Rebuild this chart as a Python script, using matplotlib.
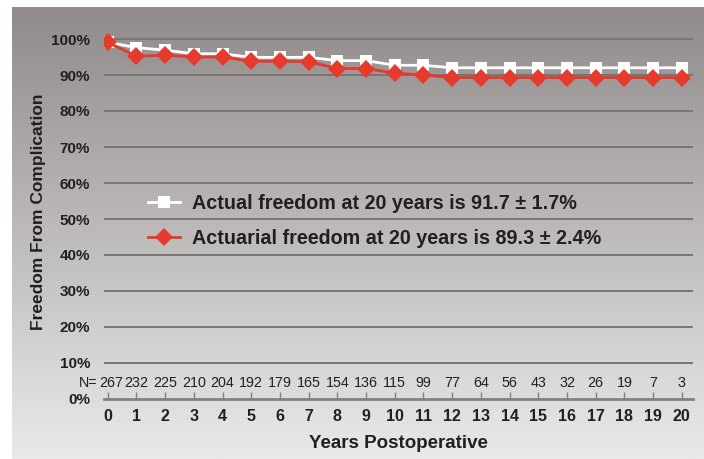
import matplotlib
matplotlib.use("Agg")
import matplotlib.pyplot as plt
import numpy as np

plt.rcParams['font.family'] = ['Liberation Sans', 'DejaVu Sans']

years = list(range(21))
actual = [99.1, 97.6, 96.9, 95.9, 95.9, 94.9, 94.9, 94.9, 94.0, 94.0, 92.7,
          92.7, 92.0, 92.0, 92.0, 92.0, 92.0, 92.0, 92.0, 92.0, 92.0]
actuarial = [99.1, 95.2, 95.5, 95.0, 95.0, 93.8, 93.8, 93.7, 91.8, 91.8, 90.5,
             90.0, 89.3, 89.3, 89.3, 89.3, 89.3, 89.3, 89.3, 89.3, 89.3]
n_at_risk = [267, 232, 225, 210, 204, 192, 179, 165, 154, 136, 115, 99, 77,
             64, 56, 43, 32, 26, 19, 7, 3]
label_actual = "Actual freedom at 20 years is 91.7 \u00b1 1.7%"
label_actuarial = "Actuarial freedom at 20 years is 89.3 \u00b1 2.4%"

W, H = 704, 459
fig = plt.figure(figsize=(W / 100, H / 100), dpi=100)

# gradient panel behind the chart
bg = fig.add_axes([12 / W, 0, 1 - 12 / W, 452 / H])
grad = np.linspace(0, 1, 256).reshape(-1, 1)
top = np.array([0x90, 0x8b, 0x8a]) / 255
bot = np.array([0xea, 0xe9, 0xe9]) / 255
img = top + (bot - top) * grad[..., None]
bg.imshow(img, aspect='auto', extent=[0, 1, 0, 1], origin='upper')
bg.axis('off')

ax = fig.add_axes([104 / W, 1 - 399 / H, (693 - 104) / W, (399 - 25) / H])
ax.set_facecolor('none')
ax.set_xlim(-0.13, 20.39)
ax.set_ylim(0, 100 * (399 - 25) / 360)

for v in range(10, 101, 10):
    ax.axhline(v, color='#7a7575', lw=1.4, zorder=1)

ax.plot(years, actual, color='white', lw=2, marker='s', markersize=9,
        markeredgewidth=0, label=label_actual, zorder=3)
ax.plot(years, actuarial, color='#e63a2c', lw=2, marker='D', markersize=9,
        markeredgewidth=0, label=label_actuarial, zorder=4)

for s in ['top', 'right', 'left']:
    ax.spines[s].set_visible(False)
ax.spines['bottom'].set_color('#858080')
ax.spines['bottom'].set_linewidth(2)

ax.set_xticks(years)
ax.set_xticklabels([str(y) for y in years], fontsize=11.5, fontweight='bold',
                   color='#231f20')
ax.tick_params(axis='x', direction='in', length=5, width=1, color='#858080',
               pad=7)
ax.set_yticks(range(0, 101, 10))
ax.set_yticklabels([f"{v}%" for v in range(0, 101, 10)], fontsize=11,
                   fontweight='bold', color='#231f20')
ax.tick_params(axis='y', length=0, pad=10)

for x, n in zip(years, n_at_risk):
    xx = x + 0.12 if x == 0 else x
    ax.text(xx, 4.4, str(n), ha='center', va='center', fontsize=10.3,
            color='#231f20')
ax.text(-0.37, 4.4, "N=", ha='right', va='center', fontsize=10.3,
        color='#231f20')

ax.set_xlabel("Years Postoperative", fontsize=13.5, fontweight='bold',
              color='#231f20', labelpad=8)
ax.set_ylabel("Freedom From Complication", fontsize=12.5, fontweight='bold',
              color='#231f20')
ax.yaxis.set_label_coords(-0.099, 0.5)

leg = ax.legend(loc='upper left', bbox_to_anchor=(0.045, 0.595), frameon=False,
                fontsize=14.2, handlelength=1.6, labelspacing=0.78,
                handletextpad=0.6)
for t in leg.get_texts():
    t.set_fontweight('bold')
    t.set_color('#231f20')

fig.savefig("out.png", dpi=100)
